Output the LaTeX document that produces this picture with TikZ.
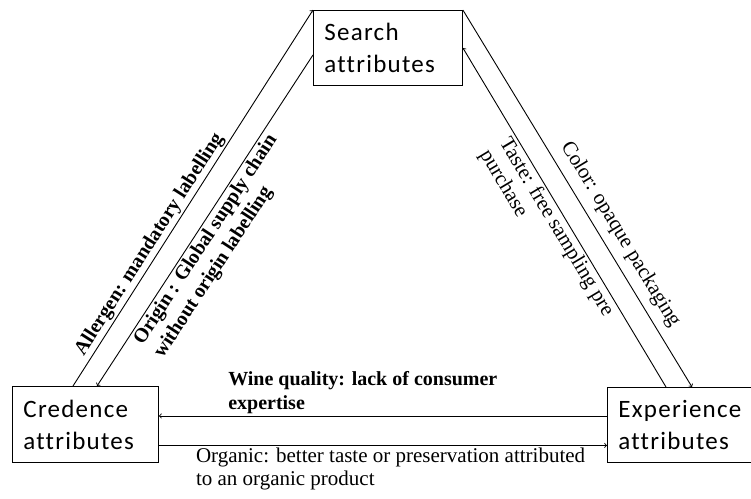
\documentclass[tikz,border=0pt]{standalone}
\usepackage{fontspec}
\setmainfont{Liberation Serif}
\newfontfamily\boxfont[LetterSpace=5,Ligatures=NoCommon]{Carlito}
\usepackage{tikz}

\tikzset{
  attr/.style={draw, anchor=north west, align=left, inner xsep=11pt, inner ysep=0pt,
    font=\boxfont\fontsize{25}{32}\selectfont, line width=0.9pt},
  link/.style={->, line width=0.9pt},
  lbl/.style={font=\fontsize{21}{23}\selectfont, align=left, inner sep=2pt},
  lblb/.style={lbl, font=\bfseries\fontsize{20}{24}\selectfont},
}

\begin{document}
\begin{tikzpicture}[x=1pt,y=-1pt]
\clip (0,0) rectangle (751,498);

\node[attr, text width=127pt, minimum height=75pt] (srch) at (313,10) {Search\\attributes};
\node[attr, text width=124pt, minimum height=76pt] (cred) at (12,386) {Credence\\attributes};
\node[attr, text width=131pt, minimum height=75pt] (expr) at (607,387) {Experience\\attributes};

\coordinate (c1) at ([xshift=61pt]cred.north west);
\coordinate (c2) at ([xshift=85pt]cred.north west);
\coordinate (s1) at ([yshift=-7pt]srch.west);
\coordinate (e1) at ([xshift=85pt]expr.north west);
\coordinate (e2) at ([xshift=59pt]expr.north west);
\coordinate (e3) at ([yshift=9pt]expr.west);
\coordinate (c3) at ([yshift=-21pt]cred.east);

\draw[link] (c1) -- node[lblb, pos=0.36, sloped, above] {Allergen: mandatory labelling} (srch.north west);
\draw[link] (s1) -- node[lblb, pos=0.54, sloped, below] {Origin : Global supply chain\\without origin labelling} (c2);
\draw[link] (srch.north east) -- node[lbl, pos=0.62, sloped, above=6pt] {Color: opaque packaging} (e1);
\draw[link] (e2) -- node[lbl, pos=0.49, sloped, below] {Taste: free sampling pre\\purchase} (srch.east);
\draw[link] (e3) -- node[lblb, pos=0.545, above] {Wine quality: lack of consumer\\expertise} (e3 -| cred.east);
\draw[link] (c3) -- node[lbl, pos=0.517, below] {Organic: better taste or preservation attributed\\to an organic product} (c3 -| expr.west);
\end{tikzpicture}
\end{document}
